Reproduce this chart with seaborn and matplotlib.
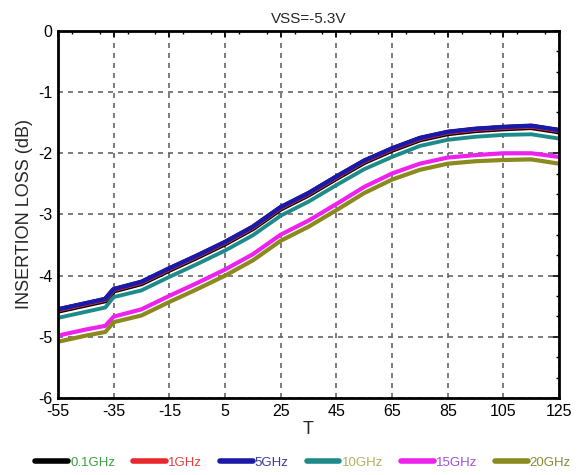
import numpy as np
import pandas as pd
import matplotlib
matplotlib.use("Agg")
import matplotlib.pyplot as plt
import seaborn as sns
from matplotlib.ticker import MultipleLocator

T = [-55, -45, -38, -35, -25, -15, -5, 5, 15, 25, 35, 45, 55, 65, 75, 85, 95, 105, 115, 125]
loss_01 = [-4.57, -4.47, -4.40, -4.24, -4.12, -3.90, -3.69, -3.47, -3.22, -2.90, -2.67, -2.40, -2.14, -1.94, -1.77, -1.67, -1.62, -1.59, -1.57, -1.64]
loss_1 = [-4.56, -4.46, -4.39, -4.23, -4.11, -3.89, -3.68, -3.46, -3.21, -2.89, -2.66, -2.39, -2.13, -1.93, -1.76, -1.66, -1.61, -1.58, -1.56, -1.63]
loss_5 = [-4.55, -4.45, -4.38, -4.22, -4.10, -3.88, -3.67, -3.45, -3.20, -2.88, -2.65, -2.38, -2.12, -1.92, -1.75, -1.65, -1.60, -1.57, -1.55, -1.62]
loss_10 = [-4.69, -4.59, -4.52, -4.35, -4.24, -4.02, -3.81, -3.59, -3.34, -3.02, -2.79, -2.52, -2.26, -2.06, -1.88, -1.78, -1.73, -1.70, -1.69, -1.76]
loss_15 = [-4.98, -4.88, -4.82, -4.67, -4.55, -4.33, -4.12, -3.90, -3.65, -3.33, -3.10, -2.83, -2.55, -2.33, -2.17, -2.07, -2.03, -2.00, -2.00, -2.06]
loss_20 = [-5.08, -4.98, -4.92, -4.76, -4.65, -4.43, -4.22, -4.00, -3.75, -3.43, -3.20, -2.93, -2.65, -2.43, -2.27, -2.17, -2.13, -2.11, -2.10, -2.17]

labels = ["0.1GHz", "1GHz", "5GHz", "10GHz", "15GHz", "20GHz"]
series = [loss_01, loss_1, loss_5, loss_10, loss_15, loss_20]
line_colors = ["#000000", "#e8282a", "#1a1aa8", "#1f8a8a", "#ee22ee", "#8a8a1e"]
text_colors = ["#3aa040", "#e04040", "#3a3aa0", "#b0b060", "#a050d0", "#8a8a3a"]
widths = [4.5, 3.5, 3.2, 2.8, 3.0, 3.0]

df = pd.concat([pd.DataFrame({"T": T, "IL": s, "freq": l}) for s, l in zip(series, labels)])

sns.set_theme(style="white")
plt.rcParams['font.family'] = ['Liberation Sans', 'DejaVu Sans']
plt.rcParams['axes.unicode_minus'] = False

fig = plt.figure(figsize=(5.83, 4.75), dpi=100)
ax = fig.add_axes([0.0995, 0.162, 0.8595, 0.773])

for l, c, w in zip(labels, line_colors, widths):
    sns.lineplot(data=df[df["freq"] == l], x="T", y="IL", color=c, lw=w, ax=ax, label=l)

ax.set_xlim(-55, 125)
ax.set_ylim(-6, 0)
ax.set_xticks(np.arange(-55, 126, 20))
ax.set_yticks(np.arange(-6, 0.1, 1))
ax.xaxis.set_minor_locator(MultipleLocator(10))
ax.yaxis.set_minor_locator(MultipleLocator(1/3))
ax.tick_params(which="both", direction="in", top=True, right=True, colors="black")
ax.tick_params(which="major", length=4, width=1.2, labelsize=11.5, pad=4)
ax.tick_params(which="minor", length=2.5, width=1)
ax.grid(True, which="major", linestyle=(0, (3, 3)), color="#666666", linewidth=1.2)
for sp in ax.spines.values():
    sp.set_color("black")
    sp.set_linewidth(2)

ax.set_xlabel("T", fontsize=13, labelpad=2)
ax.set_ylabel("INSERTION LOSS (dB)", fontsize=13, labelpad=4)
ax.set_title("VSS=-5.3V", fontsize=11, pad=6)

handles, labs = ax.get_legend_handles_labels()
leg = fig.legend(handles, labs, loc="lower center", bbox_to_anchor=(0.52, -0.012), ncol=6,
                 frameon=False, fontsize=9.5, handlelength=2.5, handletextpad=0.15,
                 columnspacing=1.35)
for t, c in zip(leg.get_texts(), text_colors):
    t.set_color(c)
for h in leg.get_lines():
    h.set_linewidth(4)
ax.get_legend().remove()

fig.savefig("out.png", dpi=100)
